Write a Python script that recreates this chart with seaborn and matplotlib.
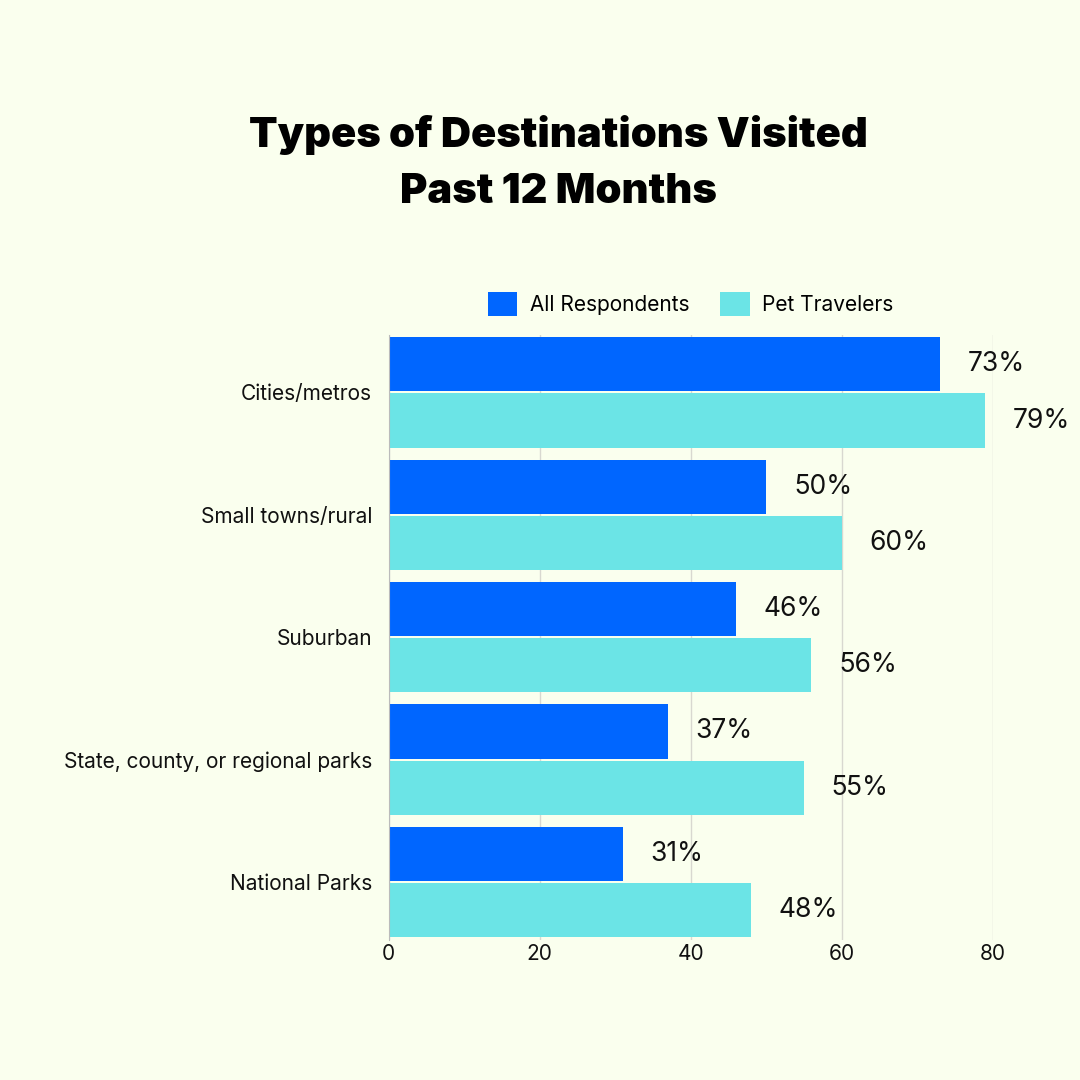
import matplotlib
matplotlib.use("Agg")
import matplotlib.pyplot as plt
import seaborn as sns
import pandas as pd

categories = ["Cities/metros", "Small towns/rural", "Suburban",
              "State, county, or regional parks", "National Parks"]
all_respondents = [73, 50, 46, 37, 31]
pet_travelers = [79, 60, 56, 55, 48]
series = ["All Respondents", "Pet Travelers"]
colors = ["#0066FF", "#6BE4E6"]
bg = "#FAFFEE"

df = pd.DataFrame({
    "category": categories * 2,
    "value": all_respondents + pet_travelers,
    "group": [series[0]] * 5 + [series[1]] * 5,
})

plt.rcParams["font.family"] = "Inter"
fig = plt.figure(figsize=(10.8, 10.8), dpi=100, facecolor=bg)
ax = fig.add_axes([0.360, 0.130, 0.559, 0.560], facecolor=bg)

sns.barplot(data=df, y="category", x="value", hue="group", orient="h",
            palette=colors, width=0.92, gap=0.04, ax=ax, saturation=1)

for cont in ax.containers:
    ax.bar_label(cont, labels=[f"{int(v)}%" for v in cont.datavalues],
                 padding=20, fontsize=19, color="#111111")

ax.set_xlim(0, 80)
ax.set_ylim(4.47, -0.47)
ax.set_xticks([0, 20, 40, 60, 80])
ax.xaxis.grid(True, color="#d8d8d0", linewidth=1)
ax.set_axisbelow(True)
ax.set_xlabel("")
ax.set_ylabel("")
ax.tick_params(axis="both", length=0, labelsize=15, colors="#111111")
ax.tick_params(axis="y", pad=12)
for s in ["top", "right", "bottom"]:
    ax.spines[s].set_visible(False)
ax.spines["left"].set_color("#bbbbbb")

ax.legend(loc="lower center", bbox_to_anchor=(0.5, 1.0), ncol=2, frameon=False,
          fontsize=15, handlelength=1.4, handleheight=1.4, columnspacing=1.5,
          handletextpad=0.6)

fig.text(0.517, 0.849, "Types of Destinations Visited\nPast 12 Months",
         ha="center", va="center", fontsize=30, fontweight="black",
         linespacing=1.6, color="#000000")

fig.savefig("out.png", dpi=100, facecolor=bg)
